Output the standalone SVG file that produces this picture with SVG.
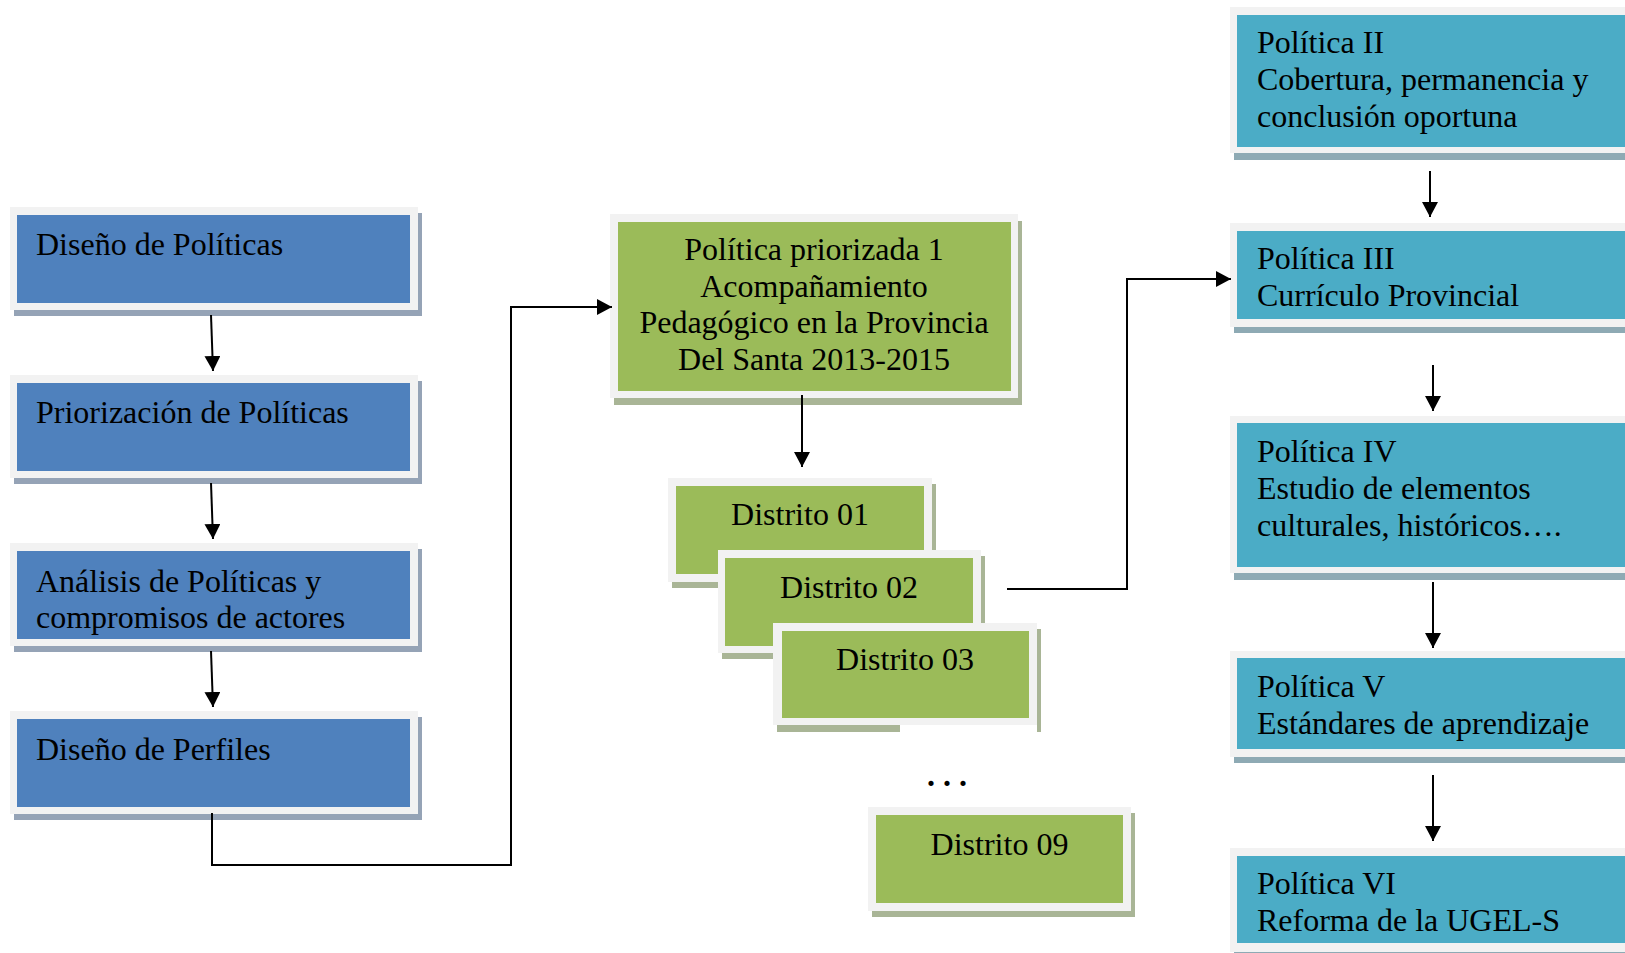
<svg xmlns="http://www.w3.org/2000/svg" width="1625" height="953" viewBox="0 0 1625 953">
<style>
text{font-family:"Liberation Serif","Times New Roman",serif;font-size:32px;fill:#000}
.mid{text-anchor:middle}
.dots{font-weight:bold}
.frame{fill:#f2f2f2}
.blue{fill:#4f81bd}
.green{fill:#9bbb59}
.teal{fill:#4bacc6}
.sb{fill:#95a3b6}
.sg{fill:#a9b596}
.st{fill:#8eaab4}
.conn{fill:none;stroke:#000;stroke-width:2}
</style>
<defs>
<marker id="ah" markerUnits="userSpaceOnUse" markerWidth="16" markerHeight="16" refX="15" refY="8" orient="auto" viewBox="0 0 16 16">
<path d="M0,0 L15,8 L0,16 z" fill="#000"/>
</marker>
</defs>
<rect width="1625" height="953" fill="#fff"/>

<g id="n-diseno-politicas">
<rect class="sb" x="14" y="213" width="408" height="103"/>
<rect class="frame" x="10" y="207" width="408" height="103"/>
<rect class="blue" x="17" y="215" width="393" height="88"/>
<text x="36" y="255">Diseño de Políticas</text>
</g>
<g id="n-priorizacion">
<rect class="sb" x="14" y="381" width="408" height="103"/>
<rect class="frame" x="10" y="375" width="408" height="103"/>
<rect class="blue" x="17" y="383" width="393" height="88"/>
<text x="36" y="423">Priorización de Políticas</text>
</g>
<g id="n-analisis">
<rect class="sb" x="14" y="549" width="408" height="103"/>
<rect class="frame" x="10" y="543" width="408" height="103"/>
<rect class="blue" x="17" y="551" width="393" height="88"/>
<text x="36" y="592">Análisis de Políticas y</text>
<text x="36" y="628">compromisos de actores</text>
</g>
<g id="n-perfiles">
<rect class="sb" x="14" y="717" width="408" height="103"/>
<rect class="frame" x="10" y="711" width="408" height="103"/>
<rect class="blue" x="17" y="719" width="393" height="88"/>
<text x="36" y="760">Diseño de Perfiles</text>
</g>

<g id="n-politica-priorizada">
<rect class="sg" x="614" y="221" width="408" height="184"/>
<rect class="frame" x="610" y="214" width="408" height="184"/>
<rect class="green" x="618" y="222" width="393" height="169"/>
<text class="mid" x="814" y="260">Política priorizada 1</text>
<text class="mid" x="814" y="297">Acompañamiento</text>
<text class="mid" x="814" y="333">Pedagógico en la Provincia</text>
<text class="mid" x="814" y="370">Del Santa 2013-2015</text>
</g>

<g id="n-distrito-01">
<rect class="sg" x="672" y="484" width="264" height="104"/>
<rect class="frame" x="668" y="478" width="264" height="104"/>
<rect class="green" x="676" y="486" width="248" height="88"/>
<text class="mid" x="800" y="525">Distrito 01</text>
</g>
<g id="n-distrito-02">
<rect class="sg" x="722" y="556" width="263" height="103"/>
<rect class="frame" x="718" y="550" width="263" height="103"/>
<rect class="green" x="725" y="558" width="248" height="88"/>
<text class="mid" x="849" y="598">Distrito 02</text>
</g>
<g id="n-distrito-03">
<rect class="sg" x="1037" y="629" width="4" height="103"/>
<rect class="sg" x="777" y="725" width="123" height="7"/>
<rect class="frame" x="773" y="623" width="264" height="102"/>
<rect class="green" x="782" y="631" width="247" height="87"/>
<text class="mid" x="905" y="670">Distrito 03</text>
</g>
<g id="n-dots">
<text class="dots" x="927" y="786">. . .</text>
</g>
<g id="n-distrito-09">
<rect class="sg" x="872" y="813" width="263" height="104"/>
<rect class="frame" x="868" y="807" width="263" height="104"/>
<rect class="green" x="876" y="815" width="247" height="88"/>
<text class="mid" x="999.5" y="855">Distrito 09</text>
</g>

<g id="n-politica-ii">
<rect class="st" x="1234" y="13" width="420" height="147"/>
<rect class="frame" x="1230" y="7" width="420" height="146"/>
<rect class="teal" x="1237" y="15" width="420" height="132"/>
<text x="1257" y="53">Política II</text>
<text x="1257" y="90">Cobertura, permanencia y</text>
<text x="1257" y="127">conclusión oportuna</text>
</g>
<g id="n-politica-iii">
<rect class="st" x="1234" y="229" width="420" height="104"/>
<rect class="frame" x="1230" y="223" width="420" height="104"/>
<rect class="teal" x="1237" y="231" width="420" height="88"/>
<text x="1257" y="269">Política III</text>
<text x="1257" y="306">Currículo Provincial</text>
</g>
<g id="n-politica-iv">
<rect class="st" x="1234" y="422" width="420" height="158"/>
<rect class="frame" x="1230" y="416" width="420" height="157"/>
<rect class="teal" x="1237" y="423" width="420" height="144"/>
<text x="1257" y="462">Política IV</text>
<text x="1257" y="499">Estudio de elementos</text>
<text x="1257" y="536">culturales, históricos….</text>
</g>
<g id="n-politica-v">
<rect class="st" x="1234" y="657" width="420" height="106"/>
<rect class="frame" x="1230" y="651" width="420" height="106"/>
<rect class="teal" x="1237" y="658" width="420" height="91"/>
<text x="1257" y="697">Política V</text>
<text x="1257" y="734">Estándares de aprendizaje</text>
</g>
<g id="n-politica-vi">
<rect class="st" x="1234" y="854" width="420" height="104"/>
<rect class="frame" x="1230" y="848" width="420" height="104"/>
<rect class="teal" x="1237" y="856" width="420" height="87"/>
<text x="1257" y="894">Política VI</text>
<text x="1257" y="931">Reforma de la UGEL-S</text>
</g>

<g id="connectors">
<path class="conn" d="M211,315 L213,371" marker-end="url(#ah)"/>
<path class="conn" d="M211,483 L213,539" marker-end="url(#ah)"/>
<path class="conn" d="M211,651 L213,707" marker-end="url(#ah)"/>
<path class="conn" d="M212,813 V865 H511 V307 H612" marker-end="url(#ah)"/>
<path class="conn" d="M802,395 V467" marker-end="url(#ah)"/>
<path class="conn" d="M1007,589 H1127 V279 H1231" marker-end="url(#ah)"/>
<path class="conn" d="M1430,171 V217" marker-end="url(#ah)"/>
<path class="conn" d="M1433,365 V411" marker-end="url(#ah)"/>
<path class="conn" d="M1433,582 V648" marker-end="url(#ah)"/>
<path class="conn" d="M1433,775 V841" marker-end="url(#ah)"/>
</g>
</svg>
